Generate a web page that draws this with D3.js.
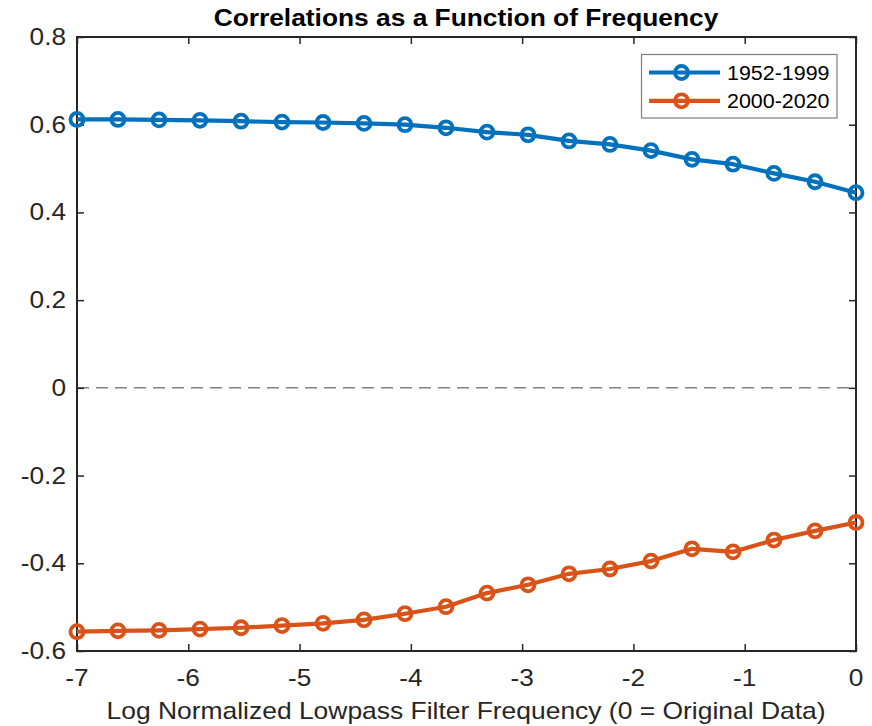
<!DOCTYPE html>
<html>
<head>
<meta charset="utf-8">
<script src="https://cdn.jsdelivr.net/npm/d3@7"></script>
<style>
  html, body { margin: 0; padding: 0; background: #fff; }
  svg { display: block; font-family: "Liberation Sans", Arial, Helvetica, sans-serif; }
</style>
</head>
<body>
<svg id="chart" width="872" height="726"></svg>
<script>
// Log-normalised lowpass filter frequency (0 = unfiltered data)
const freqs = [-7.000, -6.632, -6.263, -5.895, -5.526, -5.158, -4.789, -4.421, -4.053, -3.684,
               -3.316, -2.947, -2.579, -2.211, -1.842, -1.474, -1.105, -0.737, -0.368, 0.000];
const series1Name = "1952-1999";
const series1 = [0.612, 0.612, 0.611, 0.610, 0.608, 0.606, 0.605, 0.603, 0.600, 0.593,
                 0.583, 0.577, 0.563, 0.555, 0.541, 0.521, 0.510, 0.489, 0.470, 0.445];
const series2Name = "2000-2020";
const series2 = [-0.556, -0.554, -0.553, -0.550, -0.547, -0.542, -0.537, -0.529, -0.515, -0.499,
                 -0.468, -0.449, -0.424, -0.413, -0.395, -0.367, -0.374, -0.347, -0.326, -0.307];
const xTicks = [-7, -6, -5, -4, -3, -2, -1, 0];
const yTicks = [-0.6, -0.4, -0.2, 0, 0.2, 0.4, 0.6, 0.8];
const yTickLabels = ["-0.6", "-0.4", "-0.2", "0", "0.2", "0.4", "0.6", "0.8"];
const titleText = "Correlations as a Function of Frequency";
const xLabelText = "Log Normalized Lowpass Filter Frequency (0 = Original Data)";

const colors = ["#0072BD", "#D95319"];
const axisColor = "#262626";
const textStretch = 1.14;   // wide glyph rendering used throughout

const svg = d3.select("#chart");
const plot = { left: 77, right: 856, top: 37, bottom: 651 };

const x = d3.scaleLinear().domain([-7, 0]).range([plot.left, plot.right]);
const y = d3.scaleLinear().domain([-0.6, 0.8]).range([plot.bottom, plot.top]);

// horizontally stretched text helper
function label(parent, tx, ty, str, opts) {
  const g = parent.append("g").attr("transform", `translate(${tx},${ty}) scale(${opts.sx || textStretch},1)`);
  g.append("text")
    .attr("x", 0).attr("y", 0)
    .attr("text-anchor", opts.anchor || "middle")
    .attr("font-size", opts.size)
    .attr("font-weight", opts.weight || "normal")
    .attr("fill", opts.fill || axisColor)
    .text(str);
  return g;
}

// zero reference line
svg.append("line")
  .attr("x1", x(-7)).attr("x2", x(0))
  .attr("y1", y(0)).attr("y2", y(0))
  .attr("stroke", "#808080").attr("stroke-width", 1.5)
  .attr("stroke-dasharray", "12,7");

// axes: ticks inward on all four sides
const tickLen = 7;
const axesG = svg.append("g");

const xBottom = d3.axisBottom(x).tickValues(xTicks).tickSize(-tickLen).tickFormat("");
const xTop = d3.axisTop(x).tickValues(xTicks).tickSize(-tickLen).tickFormat("");
const yLeft = d3.axisLeft(y).tickValues(yTicks).tickSize(-tickLen).tickFormat("");
const yRight = d3.axisRight(y).tickValues(yTicks).tickSize(-tickLen).tickFormat("");

[[xBottom, `translate(0,${plot.bottom})`], [xTop, `translate(0,${plot.top})`],
 [yLeft, `translate(${plot.left},0)`], [yRight, `translate(${plot.right},0)`]].forEach(([ax, tr]) => {
  const g = axesG.append("g").attr("transform", tr).call(ax);
  g.select(".domain").remove();
  g.selectAll(".tick line").attr("stroke", axisColor).attr("stroke-width", 1.5);
});

axesG.append("rect")
  .attr("x", plot.left).attr("y", plot.top)
  .attr("width", plot.right - plot.left).attr("height", plot.bottom - plot.top)
  .attr("fill", "none").attr("stroke", axisColor).attr("stroke-width", 2);

// tick labels
xTicks.forEach(t => label(svg, x(t), 686, String(t), { size: 23 }));
yTicks.forEach((t, i) => label(svg, 66, y(t) + 8, yTickLabels[i], { size: 23, anchor: "end" }));

// title and axis label
label(svg, 466, 25.5, titleText, { size: 23, weight: "bold", fill: "#000", sx: 1.145 });
label(svg, 466, 719, xLabelText, { size: 23, sx: 1.15 });

// series
const lineGen = d3.line().x((d, i) => x(freqs[i])).y(d => y(d));
const allSeries = [series1, series2];
allSeries.forEach((vals, k) => {
  svg.append("path")
    .datum(vals)
    .attr("d", lineGen)
    .attr("fill", "none")
    .attr("stroke", colors[k])
    .attr("stroke-width", 4.2)
    .attr("stroke-linejoin", "round");
  svg.append("g").selectAll("circle")
    .data(vals)
    .join("circle")
    .attr("cx", (d, i) => x(freqs[i]))
    .attr("cy", d => y(d))
    .attr("r", 6.5)
    .attr("fill", "none")
    .attr("stroke", colors[k])
    .attr("stroke-width", 3.8);
});

// legend
const legend = svg.append("g");
legend.append("rect")
  .attr("x", 641.5).attr("y", 54.5).attr("width", 195.5).attr("height", 63.5)
  .attr("fill", "#fff").attr("stroke", "#7f7f7f").attr("stroke-width", 1.2);
[series1Name, series2Name].forEach((name, k) => {
  const ry = 72.5 + k * 28.3;
  legend.append("line")
    .attr("x1", 649).attr("x2", 720).attr("y1", ry).attr("y2", ry)
    .attr("stroke", colors[k]).attr("stroke-width", 4.2);
  legend.append("circle")
    .attr("cx", 681.5).attr("cy", ry).attr("r", 6.5)
    .attr("fill", "none").attr("stroke", colors[k]).attr("stroke-width", 3.8);
  label(legend, 727, ry + 7, name, { size: 19.5, anchor: "start", fill: "#000", sx: 1.1 });
});
</script>
</body>
</html>
